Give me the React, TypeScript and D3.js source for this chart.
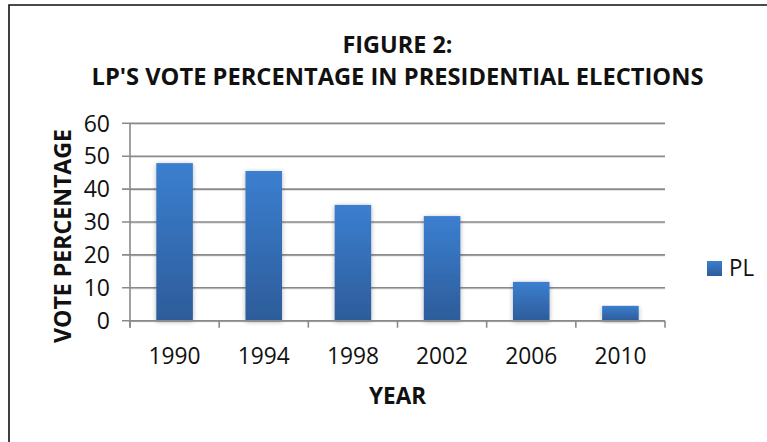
import React from "react";
import * as d3 from "d3";

const years = ["1990", "1994", "1998", "2002", "2006", "2010"];
const votePct = [47.9, 45.5, 35.2, 31.8, 11.8, 4.5];
const yTicks = [0, 10, 20, 30, 40, 50, 60];
const seriesName = "PL";
const titleLines = ["FIGURE 2:", "LP'S VOTE PERCENTAGE IN PRESIDENTIAL ELECTIONS"];

const W = 767;
const H = 442;
const plot = { left: 130, right: 665, top: 123.3, bottom: 320.7 };
const font = "'Open Sans', 'Liberation Sans', sans-serif";
const centerX = (plot.left + plot.right) / 2;

export default function App() {
  const x = d3
    .scaleBand<string>()
    .domain(years)
    .range([plot.left, plot.right])
    .paddingInner(0.59)
    .paddingOuter(0.295);
  const y = d3.scaleLinear().domain([0, 60]).range([plot.bottom, plot.top]);
  const band = (plot.right - plot.left) / years.length;
  const catEdges = d3.range(years.length + 1).map((i) => plot.left + i * band);

  return (
    <svg
      width={W}
      height={H}
      style={{ position: "absolute", left: 0, top: 0, background: "#fff" }}
      fontFamily={font}
    >
      <defs>
        <linearGradient id="barFill" x1="0" y1="0" x2="0" y2="1">
          <stop offset="0" stopColor="#3b7fd0" />
          <stop offset="1" stopColor="#2d5c9a" />
        </linearGradient>
        <filter id="barShadow" x="-30%" y="-10%" width="160%" height="130%">
          <feGaussianBlur in="SourceAlpha" stdDeviation="2.5" />
          <feOffset dx="0" dy="1" result="b" />
          <feComponentTransfer>
            <feFuncA type="linear" slope="0.3" />
          </feComponentTransfer>
          <feMerge>
            <feMergeNode />
            <feMergeNode in="SourceGraphic" />
          </feMerge>
        </filter>
        <linearGradient id="legendFill" x1="0" y1="0" x2="0" y2="1">
          <stop offset="0" stopColor="#3b7fd0" />
          <stop offset="1" stopColor="#2d5c9a" />
        </linearGradient>
      </defs>

      {/* chart frame */}
      <path d={`M9,${H + 5} V5 H${W + 5}`} fill="none" stroke="#111" strokeWidth={1.6} />

      {/* title */}
      <text x={centerX} y={53} textAnchor="middle" fontWeight="bold" fontSize={24} fill="#111" textLength={110} lengthAdjust="spacingAndGlyphs">
        {titleLines[0]}
      </text>
      <text x={centerX} y={85} textAnchor="middle" fontWeight="bold" fontSize={24} fill="#111" textLength={612} lengthAdjust="spacingAndGlyphs">
        {titleLines[1]}
      </text>

      {/* gridlines */}
      {yTicks.map((t) => (
        <g key={t}>
          <line x1={plot.left} x2={plot.right} y1={y(t) + 1} y2={y(t) + 1} stroke="#d0d0d0" strokeWidth={1} />
          <line x1={t === 0 ? 122 : plot.left - 8} x2={plot.right} y1={y(t)} y2={y(t)} stroke="#8a8a8a" strokeWidth={1.6} />
          <text x={110} y={y(t)} dy="0.36em" textAnchor="end" fontSize={23} fill="#111">
            {t}
          </text>
        </g>
      ))}

      {/* y axis */}
      <line x1={plot.left} x2={plot.left} y1={plot.top} y2={plot.bottom + 7} stroke="#8a8a8a" strokeWidth={1.6} />

      {/* bars */}
      {votePct.map((v, i) => (
        <rect
          key={years[i]}
          x={x(years[i])}
          y={y(v)}
          width={x.bandwidth()}
          height={plot.bottom - y(v)}
          fill="url(#barFill)"
          filter="url(#barShadow)"
        />
      ))}

      {/* x axis */}
      <line x1={plot.left} x2={plot.right} y1={plot.bottom} y2={plot.bottom} stroke="#8a8a8a" strokeWidth={1.6} />
      {catEdges.map((cx, i) => (
        <line key={i} x1={cx} x2={cx} y1={plot.bottom} y2={plot.bottom + 7} stroke="#8a8a8a" strokeWidth={1.6} />
      ))}
      {years.map((yr) => (
        <text
          key={yr}
          x={(x(yr) ?? 0) + x.bandwidth() / 2}
          y={364}
          textAnchor="middle"
          fontSize={23}
          fill="#111"
          textLength={52}
          lengthAdjust="spacingAndGlyphs"
        >
          {yr}
        </text>
      ))}

      {/* axis titles */}
      <text x={centerX} y={404} textAnchor="middle" fontWeight="bold" fontSize={23} fill="#111" textLength={57} lengthAdjust="spacingAndGlyphs">
        YEAR
      </text>
      <text
        transform={`translate(71,236) rotate(-90)`}
        textAnchor="middle"
        fontWeight="bold"
        fontSize={23}
        fill="#111"
        textLength={214}
        lengthAdjust="spacingAndGlyphs"
      >
        VOTE PERCENTAGE
      </text>

      {/* legend */}
      <rect x={707} y={261} width={15} height={15} fill="url(#legendFill)" />
      <text x={729} y={276} fontSize={23} fill="#111" textLength={25} lengthAdjust="spacingAndGlyphs">
        {seriesName}
      </text>
    </svg>
  );
}
